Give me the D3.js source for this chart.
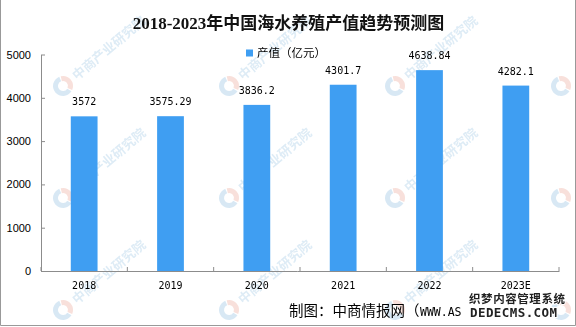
<!DOCTYPE html>
<html><head><meta charset="utf-8">
<script src="https://cdn.jsdelivr.net/npm/d3@7"></script>
<style>html,body{margin:0;padding:0;background:#fff;}svg{display:block;}</style>
</head><body>
<svg id="chart" width="576" height="327"></svg>
<script>
const categories = ["2018","2019","2020","2021","2022","2023E"];
const values = [3572, 3575.29, 3836.2, 4301.7, 4638.84, 4282.1];
const valueLabels = ["3572","3575.29","3836.2","4301.7","4638.84","4282.1"];
const yTicks = [0,1000,2000,3000,4000,5000];
const seriesName = "产值（亿元）";
const title = "2018-2023年中国海水养殖产值趋势预测图";

(function(){
const svg = d3.select("#chart");
const W = 576, H = 327;
const barColor = "#3f9ef2";
const axisColor = "#8c8c8c";
const pLeft = 41, pRight = 559, pTop = 54.5, pBottom = 271;

svg.append("rect").attr("width", W).attr("height", H).attr("fill", "#fff");

// watermarks (logo everywhere, text only where it stays inside the frame)
const wm = svg.append("g").attr("opacity", 0.55);
const wmX = [63, 229, 395, 561], wmY = [86, 198, 310];
wmY.forEach(yy => wmX.forEach(xx => {
  const g = wm.append("g").attr("transform", `translate(${xx},${yy}) rotate(-40)`);
  g.append("path").attr("d", d3.arc()({innerRadius: 5, outerRadius: 10, startAngle: Math.PI*0.9, endAngle: Math.PI*2.1}))
    .attr("fill", "#b9d6ec");
  g.append("path").attr("d", d3.arc()({innerRadius: 5, outerRadius: 10, startAngle: Math.PI*0.15, endAngle: Math.PI*0.85}))
    .attr("fill", "#f3c7bd");
  if (xx < 500) {
    g.append("text").attr("x", 14).attr("y", 5).attr("font-family", "Noto Sans CJK SC")
      .attr("font-weight", 700).attr("font-size", 13).attr("fill", "#c3dcee").text("中商产业研究院");
  }
}));

const x = d3.scaleBand().domain(categories).range([pLeft, pRight]).paddingInner(0.69).paddingOuter(0.345);
const y = d3.scaleLinear().domain([0, 5000]).range([pBottom, pTop]);

// y axis
const yAxis = svg.append("g").attr("transform", `translate(${pLeft},0)`)
  .call(d3.axisLeft(y).tickValues(yTicks).tickSizeInner(-4).tickSizeOuter(0).tickPadding(10).tickFormat(d3.format("d")));
yAxis.select(".domain").attr("stroke", axisColor);
yAxis.selectAll(".tick line").attr("stroke", axisColor);
yAxis.selectAll("text").attr("font-family", "Liberation Sans, Arial").attr("font-size", 11).attr("fill", "#000");

// bars
svg.append("g").selectAll("rect").data(values).join("rect")
  .attr("x", (d, i) => x(categories[i]))
  .attr("y", d => y(d))
  .attr("width", x.bandwidth())
  .attr("height", d => y(0) - y(d))
  .attr("fill", barColor);

// x axis
const xAxis = svg.append("g").attr("transform", `translate(0,${pBottom})`)
  .call(d3.axisBottom(x).tickSize(0).tickPadding(11));
xAxis.select(".domain").attr("stroke", axisColor);
xAxis.selectAll("text").attr("font-family", "DejaVu Sans Mono").attr("font-size", 10).attr("fill", "#000");
const bounds = d3.range(categories.length + 1).map(i => pLeft + i * x.step());
xAxis.selectAll(".bound").data(bounds).join("line").attr("class", "bound")
  .attr("x1", d => d).attr("x2", d => d).attr("y1", 0).attr("y2", -4).attr("stroke", axisColor);

// value labels
svg.append("g").selectAll("text").data(values).join("text")
  .attr("x", (d, i) => x(categories[i]) + x.bandwidth() / 2)
  .attr("y", d => y(d) - 11)
  .attr("text-anchor", "middle")
  .attr("font-family", "DejaVu Sans Mono").attr("font-size", 10).attr("fill", "#000")
  .text((d, i) => valueLabels[i]);

// title
svg.append("text").attr("x", 288.5).attr("y", 29).attr("text-anchor", "middle")
  .attr("font-family", "Liberation Serif, Noto Sans CJK SC").attr("font-weight", 700)
  .attr("font-size", 17).attr("fill", "#111").text(title);

// legend
svg.append("rect").attr("x", 246).attr("y", 49.5).attr("width", 7).attr("height", 7).attr("fill", barColor);
svg.append("text").attr("x", 257).attr("y", 56.5).attr("font-family", "Noto Sans CJK SC")
  .attr("font-size", 11.5).attr("fill", "#000").text(seriesName);

// source
svg.append("text").attr("x", 289).attr("y", 315.5).attr("font-family", "Noto Sans CJK SC")
  .attr("font-size", 14.5).attr("fill", "#000").text("制图：中商情报网（");
svg.append("text").attr("x", 420).attr("y", 316).attr("font-family", "DejaVu Sans Mono")
  .attr("font-size", 11.5).attr("fill", "#000").text("WWW.AS");
// dedecms watermark overlay
svg.append("text").attr("x", 469).attr("y", 303).attr("font-family", "Noto Sans CJK SC")
  .attr("font-weight", 700).attr("font-size", 11.5).attr("fill", "#222").attr("textLength", 96)
  .attr("stroke", "#fff").attr("stroke-width", 2).attr("paint-order", "stroke").text("织梦内容管理系统");
svg.append("text").attr("x", 470).attr("y", 317).attr("font-family", "DejaVu Sans Mono")
  .attr("font-weight", 700).attr("font-size", 12.5).attr("fill", "#222").attr("textLength", 87)
  .attr("stroke", "#fff").attr("stroke-width", 2).attr("paint-order", "stroke").text("DEDECMS.COM");

// frame
svg.append("path").attr("d", `M0.5,0 V325.5 H575.5 V0`).attr("fill", "none").attr("stroke", "#999");
})();
</script>
</body></html>
